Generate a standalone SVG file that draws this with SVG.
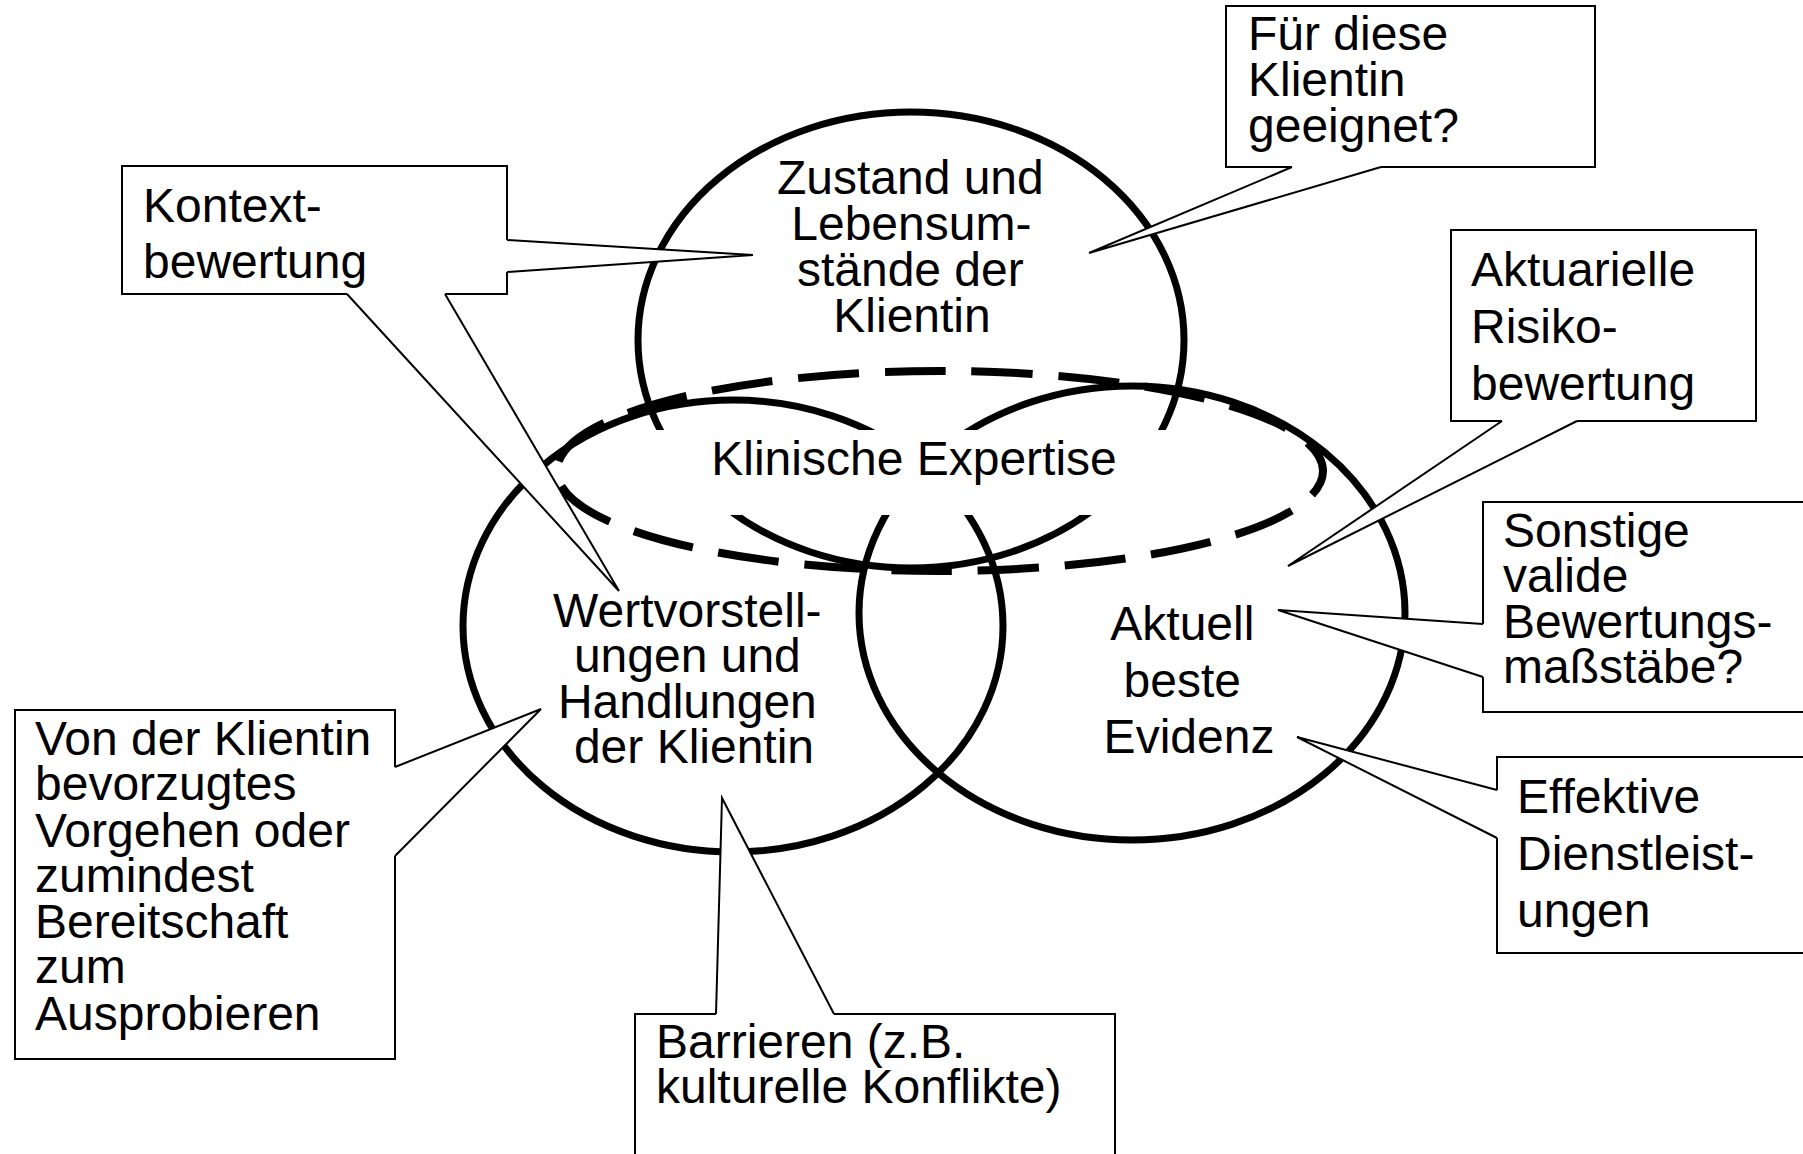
<svg xmlns="http://www.w3.org/2000/svg" width="1803" height="1154" viewBox="0 0 1803 1154">
  <style>
    .ell { fill: none; stroke: #000; stroke-width: 7; }
    .dash { fill: none; stroke: #000; stroke-width: 8; stroke-dasharray: 61 25.88; stroke-dashoffset: 34; }
    .box { fill: #fff; stroke: #000; stroke-width: 2; }
    .wfill { fill: #fff; stroke: none; }
    .wline { fill: none; stroke: #000; stroke-width: 2; stroke-linejoin: miter; }
    text { font-family: "Liberation Sans", Arial, Helvetica, sans-serif; font-size: 48px; fill: #000; }
    .mid { text-anchor: middle; }
  </style>

  <rect width="1803" height="1154" fill="#fff"/>

  <!-- three overlapping circles of the model -->
  <g id="zustand">
    <ellipse class="ell" cx="911" cy="340" rx="273" ry="228"/>
  </g>
  <g id="wertvorstellungen">
    <ellipse class="ell" cx="733" cy="626" rx="270" ry="226"/>
  </g>
  <g id="evidenz">
    <ellipse class="ell" cx="1132" cy="613" rx="273" ry="227"/>
  </g>

  <!-- clinical expertise: white label band and dashed ring on top -->
  <g id="expertise">
    <rect x="640" y="430" width="550" height="85" fill="#fff"/>
    <ellipse class="dash" cx="940" cy="471" rx="383" ry="100"/>
    <text class="mid" x="914" y="475">Klinische Expertise</text>
  </g>

  <!-- labels inside the circles -->
  <g id="zustand-label">
    <text class="mid">
      <tspan x="917" y="194">Zustand und</tspan>
      <tspan x="918" y="240">Lebensum-</tspan>
      <tspan x="917" y="286">stände der</tspan>
      <tspan x="912" y="332">Klientin</tspan>
    </text>
  </g>
  <g id="wertvorstellungen-label">
    <text class="mid">
      <tspan x="694" y="627">Wertvorstell-</tspan>
      <tspan x="694" y="672">ungen und</tspan>
      <tspan x="694" y="718">Handlungen</tspan>
      <tspan x="694" y="763">der Klientin</tspan>
    </text>
  </g>
  <g id="evidenz-label">
    <text class="mid">
      <tspan x="1189" y="640">Aktuell</tspan>
      <tspan x="1189" y="697">beste</tspan>
      <tspan x="1189" y="753">Evidenz</tspan>
    </text>
  </g>

  <!-- callout boxes -->
  <g id="callout-geeignet">
    <rect class="box" x="1226" y="6" width="369" height="161"/>
    <text>
      <tspan x="1248" y="50">Für diese</tspan>
      <tspan x="1248" y="96">Klientin</tspan>
      <tspan x="1248" y="142">geeignet?</tspan>
    </text>
  </g>
  <g id="callout-kontext">
    <rect class="box" x="122" y="166" width="385" height="128"/>
    <text>
      <tspan x="143" y="222">Kontext-</tspan>
      <tspan x="143" y="278">bewertung</tspan>
    </text>
  </g>
  <g id="callout-risiko">
    <rect class="box" x="1451" y="230" width="305" height="191"/>
    <text>
      <tspan x="1471" y="286">Aktuarielle</tspan>
      <tspan x="1471" y="343">Risiko-</tspan>
      <tspan x="1471" y="400">bewertung</tspan>
    </text>
  </g>
  <g id="callout-massstaebe">
    <rect class="box" x="1483" y="502" width="330" height="210"/>
    <text>
      <tspan x="1503" y="547">Sonstige</tspan>
      <tspan x="1503" y="592">valide</tspan>
      <tspan x="1503" y="638">Bewertungs-</tspan>
      <tspan x="1503" y="683">maßstäbe?</tspan>
    </text>
  </g>
  <g id="callout-dienstleistungen">
    <rect class="box" x="1497" y="757" width="320" height="196"/>
    <text>
      <tspan x="1517" y="813">Effektive</tspan>
      <tspan x="1517" y="870">Dienstleist-</tspan>
      <tspan x="1517" y="927">ungen</tspan>
    </text>
  </g>
  <g id="callout-vorgehen">
    <rect class="box" x="15" y="710" width="380" height="349"/>
    <text>
      <tspan x="35" y="755">Von der Klientin</tspan>
      <tspan x="35" y="800">bevorzugtes</tspan>
      <tspan x="35" y="847">Vorgehen oder</tspan>
      <tspan x="35" y="892">zumindest</tspan>
      <tspan x="35" y="938">Bereitschaft</tspan>
      <tspan x="35" y="983">zum</tspan>
      <tspan x="35" y="1030">Ausprobieren</tspan>
    </text>
  </g>
  <g id="callout-barrieren">
    <rect class="box" x="635" y="1014" width="480" height="150"/>
    <text>
      <tspan x="656" y="1058">Barrieren (z.B.</tspan>
      <tspan x="656" y="1103">kulturelle Konflikte)</tspan>
    </text>
  </g>

  <!-- callout pointers: white wedge covering the box edge, then the two outlines -->
  <g id="connectors">
    <polygon class="wfill" points="1292,164.5 1292,167 1089,253 1381,167 1381,164.5"/>
    <polyline class="wline" points="1292,167 1089,253 1381,167"/>

    <polygon class="wfill" points="504.5,240 507,240 753,255 507,272 504.5,272"/>
    <polyline class="wline" points="507,240 753,255 507,272"/>

    <polygon class="wfill" points="347,291.5 347,294 619,591 445,294 445,291.5"/>
    <polyline class="wline" points="347,294 619,591 445,294"/>

    <polygon class="wfill" points="1502,418.5 1502,421 1288,566 1577,421 1577,418.5"/>
    <polyline class="wline" points="1502,421 1288,566 1577,421"/>

    <polygon class="wfill" points="1485.5,624 1483,624 1278,610 1483,677 1485.5,677"/>
    <polyline class="wline" points="1483,624 1278,610 1483,677"/>

    <polygon class="wfill" points="1499.5,790 1497,790 1297,737 1497,838 1499.5,838"/>
    <polyline class="wline" points="1497,790 1297,737 1497,838"/>

    <polygon class="wfill" points="392.5,767 395,767 541,709 395,856 392.5,856"/>
    <polyline class="wline" points="395,767 541,709 395,856"/>

    <polygon class="wfill" points="716,1016.5 716,1014 722,798 834,1014 834,1016.5"/>
    <polyline class="wline" points="716,1014 722,798 834,1014"/>
  </g>
</svg>
